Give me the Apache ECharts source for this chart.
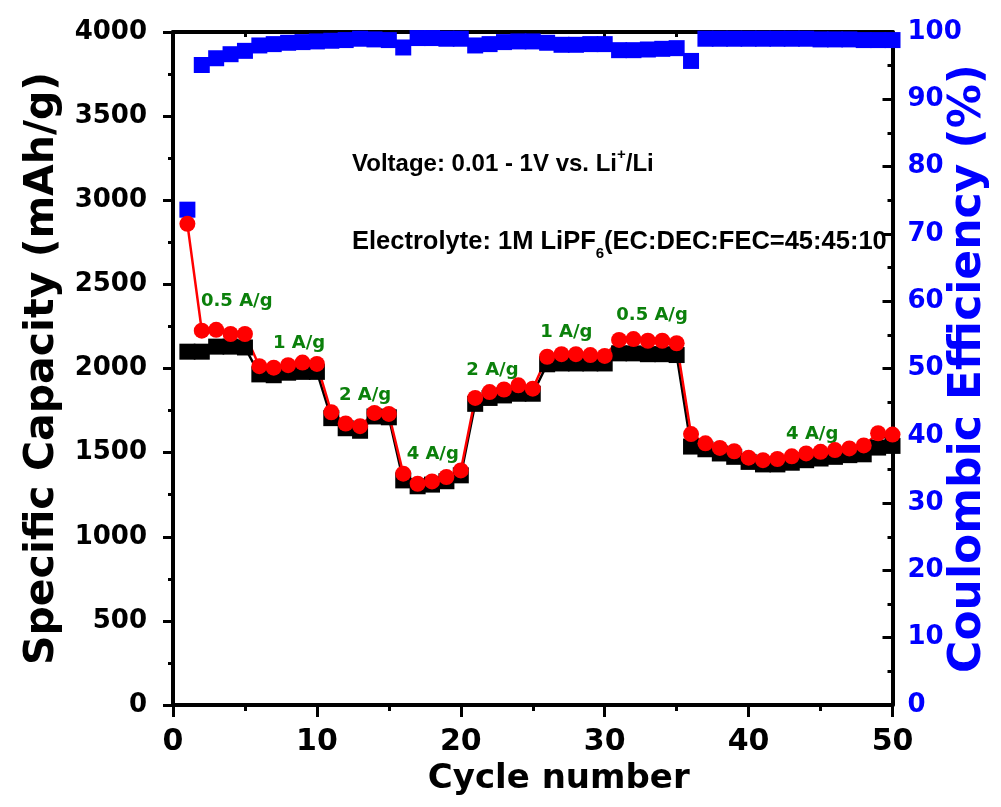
<!DOCTYPE html>
<html>
<head>
<meta charset="utf-8">
<script src="https://cdn.jsdelivr.net/npm/echarts@6/dist/echarts.min.js"></script>
<style>
html, body { margin: 0; padding: 0; background: #fff; overflow: hidden; }
#main { width: 1001px; height: 807px; }
</style>
</head>
<body>
<div id="main"></div>
<script>
// cycle index 1..50
var cycles = [];
for (var c = 1; c <= 50; c++) cycles.push(c);

// black squares (discharge), mAh/g
var discharge = [
	2100, 2100, 2130, 2130, 2125, 1965, 1960, 1975, 1980, 1980,
	1705, 1645, 1630, 1715, 1710, 1335, 1300, 1310, 1330, 1365,
	1790, 1825, 1840, 1850, 1850, 2025, 2030, 2030, 2030, 2030,
	2090, 2090, 2085, 2085, 2080, 1536, 1520, 1495, 1475, 1445,
	1430, 1430, 1440, 1455, 1465, 1475, 1485, 1490, 1530, 1540
];

// red circles (charge), mAh/g
var charge = [
	2860, 2225, 2230, 2205, 2205, 2014, 2005, 2020, 2035, 2027,
	1740, 1673, 1657, 1736, 1730, 1375, 1315, 1329, 1355, 1394,
	1825, 1860, 1875, 1900, 1880, 2070, 2085, 2085, 2080, 2075,
	2170, 2175, 2165, 2165, 2150, 1610, 1555, 1528, 1508, 1470,
	1455, 1462, 1478, 1495, 1505, 1515, 1525, 1543, 1615, 1607
];

// blue squares, coulombic efficiency %
var efficiency = [
	73.6, 95.1, 96.1, 96.7, 97.2, 98.0, 98.2, 98.4, 98.5, 98.6,
	98.7, 98.8, 99.0, 98.9, 98.8, 97.7, 99.1, 99.1, 99.0, 99.0,
	98.0, 98.2, 98.5, 98.6, 98.6, 98.4, 98.1, 98.1, 98.2, 98.2,
	97.3, 97.3, 97.4, 97.5, 97.6, 95.7, 99.0, 99.0, 99.0, 99.0,
	99.0, 99.0, 99.0, 99.0, 98.9, 98.9, 98.9, 98.8, 98.8, 98.8
];

// current density labels: [cycle, capacity, text]
var rateLabels = [
	[4.43, 2402, '0.5 A/g'],
	[8.76, 2149, '1 A/g'],
	[13.35, 1842, '2 A/g'],
	[18.05, 1488, '4 A/g'],
	[22.2, 1989, '2 A/g'],
	[27.33, 2217, '1 A/g'],
	[33.29, 2317, '0.5 A/g'],
	[44.42, 1607, '4 A/g']
];

var xTicks = { min: 0, max: 50, interval: 10 };
var yTicks = { min: 0, max: 4000, interval: 500 };
var ceTicks = { min: 0, max: 100, interval: 10 };

function pairs(xs, ys) {
	var out = [];
	for (var i = 0; i < xs.length; i++) out.push([xs[i], ys[i]]);
	return out;
}

function plain(v) { return String(v); }

var FONT = 'DejaVu Sans';
var chart = echarts.init(document.getElementById('main'), null, { renderer: 'canvas', width: 1001, height: 807 });

var axisLine = { show: true, onZero: false, lineStyle: { color: '#000', width: 4 } };

var option = {
	animation: false,
	backgroundColor: '#fff',
	grid: { left: 173, top: 32, width: 719.5, height: 673, containLabel: false, outerBoundsMode: 'none' },
	xAxis: [
		{
			type: 'value',
			position: 'bottom',
			min: xTicks.min, max: xTicks.max, interval: xTicks.interval,
			name: 'Cycle number',
			nameLocation: 'middle',
			nameGap: 57,
			nameMoveOverlap: false,
			nameTextStyle: { fontFamily: FONT, fontWeight: 'bold', fontSize: 34, color: '#000', padding: [0, 0, 0, 52] },
			axisLine: axisLine,
			axisTick: { show: true, inside: false, length: 12, lineStyle: { color: '#000', width: 3 } },
			minorTick: { show: true, splitNumber: 2, length: 6, lineStyle: { color: '#000', width: 3 } },
			splitLine: { show: false },
			axisLabel: { margin: 22, fontFamily: FONT, fontWeight: 'bold', fontSize: 30, color: '#000', formatter: plain }
		},
		{
			type: 'value',
			position: 'top',
			min: xTicks.min, max: xTicks.max, interval: xTicks.interval,
			axisLine: axisLine,
			axisTick: { show: true, inside: true, length: 10, lineStyle: { color: '#000', width: 3 } },
			minorTick: { show: true, splitNumber: 2, length: 5, lineStyle: { color: '#000', width: 3 } },
			splitLine: { show: false },
			axisLabel: { show: false }
		}
	],
	yAxis: [
		{
			type: 'value',
			position: 'left',
			min: yTicks.min, max: yTicks.max, interval: yTicks.interval,
			name: 'Specific Capacity (mAh/g)',
			nameLocation: 'middle',
			nameGap: 110,
			nameMoveOverlap: false,
			nameTextStyle: { fontFamily: FONT, fontWeight: 'bold', fontSize: 41, color: '#000' },
			axisLine: axisLine,
			axisTick: { show: true, inside: false, length: 10, lineStyle: { color: '#000', width: 3 } },
			minorTick: { show: true, splitNumber: 2, length: 5, lineStyle: { color: '#000', width: 3 } },
			splitLine: { show: false },
			axisLabel: { margin: 26, fontFamily: FONT, fontWeight: 'bold', fontSize: 26, color: '#000', formatter: plain }
		},
		{
			type: 'value',
			position: 'right',
			min: ceTicks.min, max: ceTicks.max, interval: ceTicks.interval,
			name: 'Coulombic Efficiency (%)',
			nameLocation: 'middle',
			nameGap: 54,
			nameMoveOverlap: false,
			nameTextStyle: { fontFamily: FONT, fontWeight: 'bold', fontSize: 44, color: '#0000ff' },
			axisLine: axisLine,
			axisTick: { show: true, inside: true, length: 10, lineStyle: { color: '#000', width: 3 } },
			minorTick: { show: true, splitNumber: 2, length: 5, lineStyle: { color: '#000', width: 3 } },
			splitLine: { show: false },
			axisLabel: { margin: 15, fontFamily: FONT, fontWeight: 'bold', fontSize: 26, color: '#0000ff', formatter: plain }
		}
	],
	series: [
		{
			name: 'Discharge',
			type: 'line',
			data: pairs(cycles, discharge),
			symbol: 'rect',
			symbolSize: 16,
			lineStyle: { color: '#000', width: 2.5 },
			itemStyle: { color: '#000', opacity: 1 }
		},
		{
			name: 'Charge',
			type: 'line',
			data: pairs(cycles, charge),
			symbol: 'circle',
			symbolSize: 16,
			lineStyle: { color: '#ff0000', width: 2.5 },
			itemStyle: { color: '#ff0000', opacity: 1 }
		},
		{
			name: 'Coulombic efficiency',
			type: 'scatter',
			yAxisIndex: 1,
			data: pairs(cycles, efficiency),
			symbol: 'rect',
			symbolSize: 16,
			itemStyle: { color: '#0000ff', opacity: 1 }
		},
		{
			name: 'rates',
			type: 'scatter',
			silent: true,
			data: rateLabels,
			symbolSize: 1,
			itemStyle: { color: 'transparent', opacity: 1 },
			label: {
				show: true,
				position: 'inside',
				formatter: function (p) { return p.value[2]; },
				fontFamily: FONT,
				fontWeight: 'bold',
				fontSize: 18,
				color: '#0b800b',
				opacity: 1
			}
		}
	],
	graphic: [
		{
			type: 'text',
			x: 352,
			y: 164,
			style: {
				text: 'Voltage: 0.01 - 1V vs. Li{sup|+}/Li',
				fontFamily: 'Liberation Sans',
				fontWeight: 'bold',
				fontSize: 24,
				fill: '#000',
				textVerticalAlign: 'middle',
				verticalAlign: 'middle',
				lineHeight: 34,
				rich: {
					sup: { fontFamily: 'Liberation Sans', fontWeight: 'bold', fontSize: 15, verticalAlign: 'top', lineHeight: 34 }
				}
			}
		},
		{
			type: 'text',
			x: 352,
			y: 242,
			style: {
				text: 'Electrolyte: 1M LiPF{sub|6}(EC:DEC:FEC=45:45:10',
				fontFamily: 'Liberation Sans',
				fontWeight: 'bold',
				fontSize: 25.5,
				fill: '#000',
				textVerticalAlign: 'middle',
				verticalAlign: 'middle',
				lineHeight: 38,
				rich: {
					sub: { fontFamily: 'Liberation Sans', fontWeight: 'bold', fontSize: 15, verticalAlign: 'bottom', lineHeight: 38 }
				}
			}
		}
	]
};

chart.setOption(option);
</script>
</body>
</html>
